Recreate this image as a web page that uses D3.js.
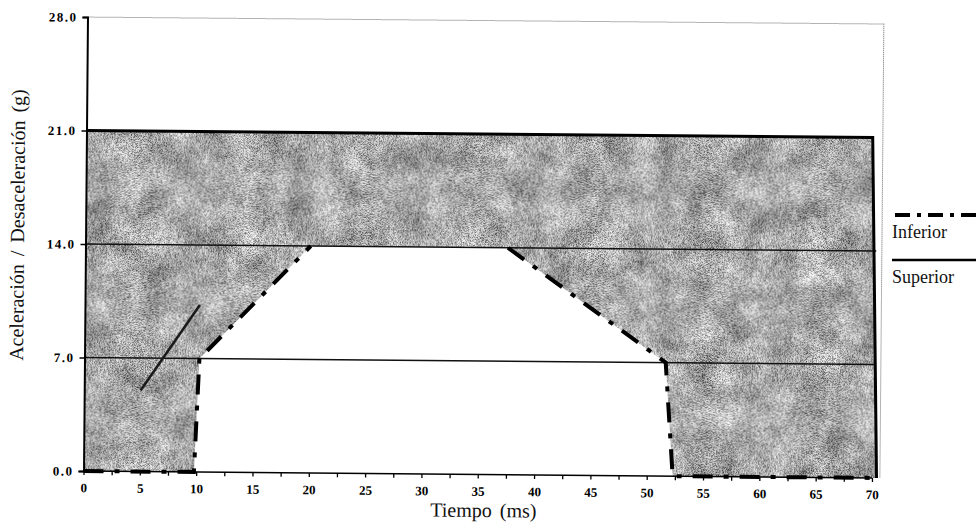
<!DOCTYPE html>
<html>
<head>
<meta charset="utf-8">
<script src="https://cdn.jsdelivr.net/npm/d3@7"></script>
<style>
  html, body { margin: 0; padding: 0; background: #fff; }
  svg { display: block; }
</style>
</head>
<body>
<svg id="chart" width="976" height="528"></svg>
<script>
// ---- data ----
const xTickLabels = [0, 5, 10, 15, 20, 25, 30, 35, 40, 45, 50, 55, 60, 65, 70];
const xMinorTicks = [0, 2.5, 5, 7.5, 10, 12.5, 15, 17.5, 20, 22.5, 25, 27.5, 30, 32.5, 35, 37.5, 40, 42.5, 45, 47.5, 50, 52.5, 55, 57.5, 60, 62.5, 65, 67.5, 70];
const yTickValues = [0, 7, 14, 21, 28];
const gridValues = [7, 14];

// lower bound of the corridor ("Inferior", dash-dot), left and right flanks
const inferiorLeftT = [0, 9.8, 10.2, 20];
const inferiorLeftG = [0, 0, 7, 14];
const inferiorRightT = [37.5, 51.6, 52.3, 70.4];
const inferiorRightG = [14, 7, 0, 0];
// upper bound of the corridor ("Superior", solid)
const superiorT = [0, 69.8, 70.4];
const superiorG = [21, 21, 0];
// stray solid stroke visible in the picture
const strayT = [5.0, 10.2];
const strayG = [5.0, 10.3];

const legendNames = ["Inferior", "Superior"];

// ---- layout ----
const svg = d3.select("#chart");
const x = d3.scaleLinear().domain([0, 70]).range([85.5, 874]);
const y = d3.scaleLinear().domain([0, 28]).range([474.5, 20.5]);
const xFrameMax = 70.7;

const defs = svg.append("defs");
const f = defs.append("filter").attr("id", "grain")
  .attr("x", 0).attr("y", 0).attr("width", 1).attr("height", 1)
  .attr("color-interpolation-filters", "sRGB");
f.append("feTurbulence").attr("type", "fractalNoise").attr("baseFrequency", 0.035)
  .attr("numOctaves", 3).attr("seed", 4).attr("result", "lo");
f.append("feColorMatrix").attr("in", "lo").attr("type", "matrix")
  .attr("values", "1.0 0 0 0 0.17  1.0 0 0 0 0.17  1.0 0 0 0 0.17  0 0 0 0 1")
  .attr("result", "loG");
f.append("feTurbulence").attr("type", "fractalNoise").attr("baseFrequency", 1.4)
  .attr("numOctaves", 1).attr("seed", 9).attr("result", "hi");
f.append("feColorMatrix").attr("in", "hi").attr("type", "matrix")
  .attr("values", "2.6 0 0 0 -0.63  2.6 0 0 0 -0.63  2.6 0 0 0 -0.63  0 0 0 0 1")
  .attr("result", "hiG");
f.append("feComposite").attr("in", "loG").attr("in2", "hiG").attr("operator", "arithmetic")
  .attr("k1", 0).attr("k2", 0.45).attr("k3", 0.55).attr("k4", 0);

const toPts = (ts, gs) => ts.map((t, i) => [t, gs[i]]);
const superior = toPts(superiorT, superiorG);
const infL = toPts(inferiorLeftT, inferiorLeftG);
const infR = toPts(inferiorRightT, inferiorRightG);
const stray = toPts(strayT, strayG);
const line = d3.line().x(d => x(d[0])).y(d => y(d[1]));

// corridor polygon = superior then inferior (right flank, then left flank) reversed
const corridor = superior.concat(infR.slice().reverse(), infL.slice().reverse());
defs.append("clipPath").attr("id", "corr").append("path")
  .attr("d", line(corridor) + "Z");

const g = svg.append("g").attr("transform", "rotate(0.5, 480, 247)");

// textured fill
g.append("g").attr("clip-path", "url(#corr)")
  .append("rect")
  .attr("x", x(0) - 2).attr("y", y(21) - 2)
  .attr("width", x(70.6) - x(0) + 4).attr("height", y(0) - y(21) + 4)
  .attr("filter", "url(#grain)");

// dotted frame
g.append("path")
  .attr("d", line([[0, 28], [xFrameMax, 28], [xFrameMax, 0]]))
  .attr("fill", "none").attr("stroke", "#666").attr("stroke-width", 1)
  .attr("stroke-dasharray", "1,1");

// grid lines at 7 and 14
g.selectAll(".grid").data(gridValues).enter().append("line")
  .attr("x1", x(0)).attr("x2", x(70.2))
  .attr("y1", d => y(d)).attr("y2", d => y(d))
  .attr("stroke", "#111").attr("stroke-width", 1.4);

// y axis
const yAxis = d3.axisLeft(y).tickValues(yTickValues).tickSize(5).tickPadding(5)
  .tickFormat(d3.format(".1f"));
const ya = g.append("g").attr("transform", `translate(${x(0)},0)`).call(yAxis);
ya.select(".domain").attr("stroke", "#000").attr("stroke-width", 2);
ya.selectAll(".tick line").attr("stroke", "#000").attr("stroke-width", 1.4);
ya.selectAll(".tick text")
  .attr("font-family", "'Liberation Serif', serif").attr("font-weight", "bold")
  .attr("font-size", 13).attr("letter-spacing", 1.5).attr("fill", "#000");

// x axis
const xAxis = d3.axisBottom(x).tickValues(xMinorTicks).tickSize(4).tickPadding(8)
  .tickFormat(d => xTickLabels.includes(d) ? d : "");
const xa = g.append("g").attr("transform", `translate(0,${y(0)})`).call(xAxis);
xa.select(".domain").attr("stroke", "#000").attr("stroke-width", 1.6)
  .attr("d", `M${x(0)},0H${x(70)}`);
xa.selectAll(".tick line").attr("stroke", "#000").attr("stroke-width", 1.3);
xa.selectAll(".tick text")
  .attr("font-family", "'Liberation Serif', serif").attr("font-weight", "bold")
  .attr("font-size", 13).attr("fill", "#000");

// inferior (dash-dot)
[infL, infR].forEach(pts => {
  g.append("path").attr("d", line(pts))
    .attr("fill", "none").attr("stroke", "#000").attr("stroke-width", 4)
    .attr("stroke-dasharray", "20,11,5,11");
});

// superior (solid)
g.append("path").attr("d", line(superior))
  .attr("fill", "none").attr("stroke", "#000").attr("stroke-width", 3);

// stray stroke
g.append("path").attr("d", line(stray))
  .attr("fill", "none").attr("stroke", "#1a1a1a").attr("stroke-width", 2.5);

// axis titles
g.append("text")
  .attr("x", (x(0) + x(70)) / 2 + 6).attr("y", 517)
  .attr("text-anchor", "middle")
  .attr("font-family", "'Liberation Serif', serif").attr("font-size", 20)
  .attr("word-spacing", 3).attr("fill", "#111")
  .text("Tiempo (ms)");

g.append("text")
  .attr("transform", "translate(24,229) rotate(-90)")
  .attr("text-anchor", "middle")
  .attr("font-family", "'Liberation Serif', serif").attr("font-size", 20)
  .attr("word-spacing", 3).attr("fill", "#111")
  .text("Aceleración / Desaceleración (g)");

// legend
const leg = svg.append("g");
leg.append("line").attr("x1", 895).attr("x2", 976).attr("y1", 215).attr("y2", 215)
  .attr("stroke", "#000").attr("stroke-width", 4).attr("stroke-dasharray", "15,7,4,7");
leg.append("text").attr("x", 892).attr("y", 238)
  .attr("font-family", "'Liberation Serif', serif").attr("font-size", 18).attr("fill", "#111")
  .text(legendNames[0]);
leg.append("line").attr("x1", 892).attr("x2", 976).attr("y1", 260).attr("y2", 260)
  .attr("stroke", "#000").attr("stroke-width", 2.5);
leg.append("text").attr("x", 892).attr("y", 283)
  .attr("font-family", "'Liberation Serif', serif").attr("font-size", 18).attr("fill", "#111")
  .text(legendNames[1]);
</script>
</body>
</html>
